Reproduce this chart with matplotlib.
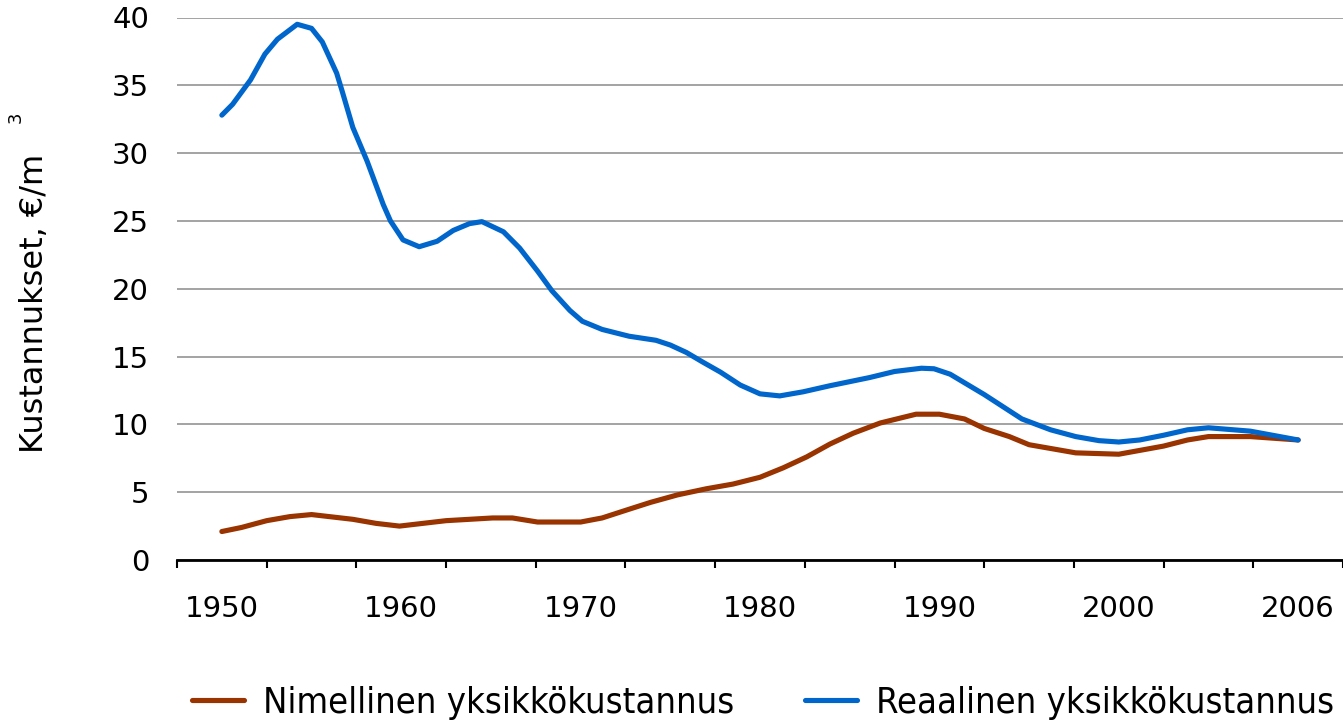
import numpy as np
import matplotlib
matplotlib.use("Agg")
import matplotlib.pyplot as plt
from matplotlib import font_manager

# values
label_years = [1950, 1960, 1970, 1980, 1990, 2000, 2006]

nom_years = [1950.0, 1951.1, 1952.5, 1953.8, 1955.0, 1957.3, 1958.6, 1959.9,
             1961.2, 1962.5, 1963.8, 1965.1, 1966.2, 1967.6, 1970.0, 1971.2,
             1972.6, 1973.9, 1975.4, 1977.0, 1978.5, 1980.0, 1981.3, 1982.6,
             1983.9, 1985.2, 1986.7, 1988.7, 1990.0, 1991.4, 1992.5, 1993.9,
             1995.0, 1997.6, 2000.0, 2001.5, 2002.3, 2003.0, 2004.4, 2006.0]
nom_cost = [2.1, 2.4, 2.9, 3.2, 3.35, 3.0, 2.7, 2.5,
            2.7, 2.9, 3.0, 3.1, 3.1, 2.8, 2.8, 3.1,
            3.7, 4.25, 4.8, 5.25, 5.6, 6.1, 6.8, 7.6,
            8.55, 9.35, 10.1, 10.75, 10.75, 10.4, 9.7, 9.1,
            8.5, 7.9, 7.8, 8.4, 8.85, 9.1, 9.1, 8.85]

real_years = [1950.0, 1950.6, 1951.6, 1952.4, 1953.1, 1954.2, 1955.0, 1955.6,
              1956.4, 1956.7, 1957.3, 1958.1, 1959.0, 1959.4, 1960.1, 1961.0,
              1962.0, 1962.9, 1963.8, 1964.5, 1965.7, 1966.6, 1967.6, 1968.4,
              1969.4, 1970.1, 1971.2, 1972.7, 1974.2, 1975.0, 1975.9, 1976.8,
              1977.8, 1978.9, 1980.0, 1981.1, 1982.4, 1983.9, 1986.1, 1987.5,
              1989.0, 1989.7, 1990.6, 1992.5, 1994.6, 1996.2, 1997.6, 1998.9,
              2000.0, 2000.7, 2001.5, 2002.3, 2003.0, 2004.4, 2006.0]
real_cost = [32.8, 33.6, 35.4, 37.3, 38.4, 39.5, 39.2, 38.2,
             35.9, 34.6, 31.9, 29.4, 26.2, 25.0, 23.6, 23.1,
             23.5, 24.3, 24.8, 24.95, 24.2, 23.0, 21.3, 19.85,
             18.4, 17.6, 17.0, 16.5, 16.2, 15.85, 15.3, 14.6,
             13.85, 12.9, 12.25, 12.1, 12.4, 12.85, 13.45, 13.9,
             14.14, 14.1, 13.7, 12.2, 10.4, 9.6, 9.1, 8.8,
             8.7, 8.85, 9.2, 9.6, 9.75, 9.5, 8.85]

labels = ["Nimellinen yksikkökustannus", "Reaalinen yksikkökustannus"]
colors = ["#993300", "#0066cc"]

# category style axis: labels every other slot, last slot is 2006
label_pos = np.arange(0, 2 * len(label_years), 2)


def to_axis(years):
    return np.interp(years, label_years, label_pos)


W, H = 1343, 723
fig = plt.figure(figsize=(W / 100, H / 100), dpi=100)
ax = fig.add_axes([177 / W, 1 - 560 / H, 1166 / W, (560 - 17.5) / H])

ax.plot(to_axis(nom_years), nom_cost, color=colors[0], lw=3.7,
        solid_joinstyle="round", solid_capstyle="round", label=labels[0])
ax.plot(to_axis(real_years), real_cost, color=colors[1], lw=3.7,
        solid_joinstyle="round", solid_capstyle="round", label=labels[1])

ax.set_xlim(-0.5, label_pos[-1] + 0.5)
ax.set_ylim(0, 40)
ax.set_yticks(np.arange(0, 41, 5))
ax.grid(axis="y", color="#8a8a8a", lw=1.1)
ax.set_axisbelow(True)

for s in ["top", "right", "left"]:
    ax.spines[s].set_visible(False)
ax.spines["bottom"].set_linewidth(2)
ax.spines["bottom"].set_color("black")

ax.set_xticks(np.arange(-0.5, label_pos[-1] + 1, 1))
ax.set_xticklabels([])
ax.set_xticks(label_pos, minor=True)
ax.set_xticklabels([str(y) for y in label_years], minor=True)
ax.tick_params(axis="x", which="major", length=6, width=1.5, direction="out")
ax.tick_params(axis="x", which="minor", length=0, pad=25, labelsize=21)
ax.tick_params(axis="y", length=0, pad=20, labelsize=21)

fig.text(35 / W, 1 - 303 / H, "Kustannukset, \u20ac/m", rotation=90,
         ha="center", va="center", fontsize=23)
fig.text(16 / W, 1 - 117 / H, "3", rotation=90, ha="center", va="center",
         fontsize=13)

# legend text in the reference is a narrow face
narrow = font_manager.FontProperties(family="DejaVu Sans", stretch="condensed")
if "Condensed" in font_manager.findfont(narrow):
    leg_prop = dict(family="DejaVu Sans", stretch="condensed", size=26)
else:
    leg_prop = dict(family="DejaVu Sans", size=23)

fig.legend(loc="center", bbox_to_anchor=(763 / W, 1 - 703 / H), ncol=2,
           frameon=False, handlelength=1.44, handletextpad=0.53,
           columnspacing=1.95, prop=leg_prop)

fig.savefig("out.png", dpi=100)
